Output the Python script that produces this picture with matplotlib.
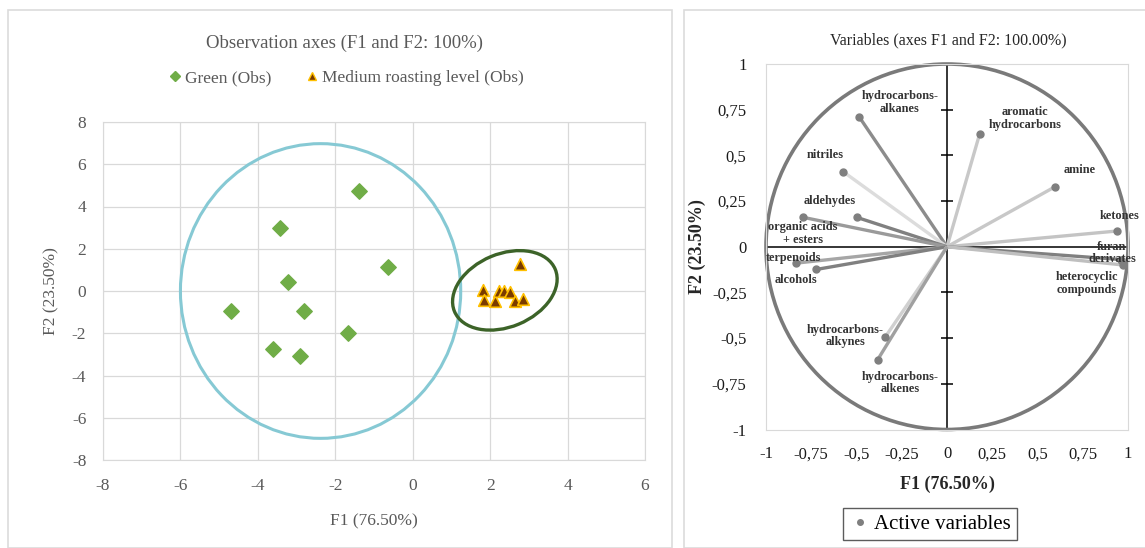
import matplotlib
matplotlib.use("Agg")
import matplotlib.pyplot as plt
from matplotlib.patches import Ellipse, Circle, Rectangle
from matplotlib.lines import Line2D

plt.rcParams['font.family'] = ['Liberation Serif', 'DejaVu Serif']
plt.rcParams['axes.unicode_minus'] = False

# observations (F1, F2)
green_f1 = [-1.40, -3.42, -0.65, -3.22, -4.70, -2.80, -1.68, -3.62, -2.92]
green_f2 = [4.75, 3.00, 1.12, 0.43, -0.93, -0.93, -1.99, -2.75, -3.08]
roast_f1 = [2.78, 1.81, 1.84, 2.12, 2.24, 2.37, 2.50, 2.65, 2.85]
roast_f2 = [1.30, 0.05, -0.43, -0.45, 0.01, 0.00, -0.04, -0.45, -0.38]

# variables (correlation circle)
var_names = ['hydrocarbons-\nalkanes', 'aromatic\nhydrocarbons', 'nitriles', 'amine',
             'aldehydes', 'organic acids\n+ esters', 'ketones', 'furan\nderivates',
             'heterocyclic\ncompounds', 'terpenoids', 'alcohols',
             'hydrocarbons-\nalkynes', 'hydrocarbons-\nalkenes']
var_f1 = [-0.486, 0.180, -0.574, 0.598, -0.499, -0.795, 0.938, 0.962, 0.975,
          -0.837, -0.721, -0.340, -0.383]
var_f2 = [0.712, 0.616, 0.411, 0.329, 0.161, 0.161, 0.086, -0.070, -0.100,
          -0.090, -0.124, -0.492, -0.618]
line_grey = ['#8c8c8c', '#c8c8c8', '#dcdcdc', '#c8c8c8', '#808080', '#9a9a9a', '#c4c4c4',
             '#808080', '#bfbfbf', '#a6a6a6', '#808080', '#d0d0d0', '#a0a0a0']
label_xy = [(-0.261, 0.789), (0.429, 0.702), (-0.675, 0.501), (0.732, 0.421),
            (-0.648, 0.249), (-0.795, 0.073), (0.953, 0.168), (0.911, -0.033),
            (0.773, -0.200), (-0.850, -0.063), (-0.832, -0.182),
            (-0.561, -0.488), (-0.256, -0.746)]

GREY = '#595959'
GRID = '#d9d9d9'

fig = plt.figure(figsize=(11.45, 5.48), dpi=100)

# panel frames
fig.patches.append(Rectangle((8 / 1145, 0), 664 / 1145, 1 - 10 / 548, transform=fig.transFigure,
                             fill=False, edgecolor='#dcdcdc', lw=1.2))
fig.patches.append(Rectangle((684 / 1145, 0), 470 / 1145, 1 - 10 / 548, transform=fig.transFigure,
                             fill=False, edgecolor='#dcdcdc', lw=1.2))

# ---------- left: observations ----------
ax1 = fig.add_axes([103 / 1145, 1 - 460 / 548, 542 / 1145, 338 / 548])
ax1.set_xlim(-8, 6)
ax1.set_ylim(-8, 8)
ax1.set_xticks(range(-8, 7, 2))
ax1.set_yticks(range(-8, 9, 2))
ax1.grid(True, color=GRID, lw=0.9)
ax1.set_axisbelow(True)
for s in ax1.spines.values():
    s.set_color(GRID)
ax1.tick_params(length=0, labelsize=12.5, labelcolor=GREY)
ax1.tick_params(axis='x', pad=13)
ax1.tick_params(axis='y', pad=12)

ax1.add_patch(Ellipse((-2.38, 0.0), 7.24, 13.95, fill=False, edgecolor='#86c9d4', lw=2.2, zorder=2))
ax1.add_patch(Ellipse((2.38, 0.03), 3.9, 2.5, angle=70, fill=False, edgecolor='#3c6328', lw=2.4, zorder=2))

ax1.scatter(green_f1, green_f2, marker='D', s=62, color='#70ad47', zorder=3, label='Green (Obs)')
ax1.scatter(roast_f1, roast_f2, marker='^', s=70, color='#7a3b00', edgecolor='#ffc000', lw=1.2,
            zorder=4, label='Medium roasting level (Obs)')

ax1.set_xlabel('F1 (76.50%)', fontsize=12.5, color=GREY, labelpad=14)
ax1.set_ylabel('F2 (23.50%)', fontsize=12.5, color=GREY, labelpad=9)
fig.text(345 / 1145, 1 - 43 / 548, 'Observation axes (F1 and F2: 100%)', ha='center', va='center',
         fontsize=13.5, color=GREY)
fig.legend(handles=[Line2D([], [], ls='', marker='D', ms=5, color='#70ad47'),
                    Line2D([], [], ls='', marker='^', ms=6, color='#7a3b00', mec='#ffc000')],
           labels=['Green (Obs)', 'Medium roasting level (Obs)'],
           loc='center', bbox_to_anchor=(345 / 1145, 1 - 78 / 548), ncol=2, frameon=False,
           prop={'family': 'Liberation Serif', 'size': 12.5}, labelcolor=GREY,
           handletextpad=0.1, columnspacing=1.8, handlelength=1)

# ---------- right: variables ----------
ax2 = fig.add_axes([766 / 1145, 1 - 429.5 / 548, 362 / 1145, 365.5 / 548])
ax2.set_xlim(-1, 1)
ax2.set_ylim(-1, 1)
ticks = [-1, -0.75, -0.5, -0.25, 0, 0.25, 0.5, 0.75, 1]
ax2.set_xticks(ticks)
ax2.set_yticks(ticks)
fmt = lambda v: ('%g' % v).replace('.', ',')
ax2.set_xticklabels([fmt(t) for t in ticks])
ax2.set_yticklabels([fmt(t) for t in ticks])
ax2.tick_params(length=0, labelsize=12, labelcolor='#1a1a1a')
ax2.tick_params(axis='x', pad=12)
ax2.tick_params(axis='y', pad=14)
for s in ax2.spines.values():
    s.set_color(GRID)

ax2.axhline(0, color='black', lw=1.1, zorder=1)
ax2.axvline(0, color='black', lw=1.1, zorder=1)
inner = [t for t in ticks if t not in (-1, 0, 1)]
ax2.plot([0] * len(inner), inner, ls='', marker='_', ms=9, mew=1.1, color='black', zorder=1)

ax2.add_patch(Circle((0, 0), 1, fill=False, edgecolor='#7a7a7a', lw=2.6, clip_on=False, zorder=2))

for x, y, c in zip(var_f1, var_f2, line_grey):
    ax2.plot([0, x], [0, y], color=c, lw=2.4, solid_capstyle='butt', zorder=3)
ax2.plot(var_f1, var_f2, ls='', marker='o', ms=5, color='#7f7f7f', zorder=4)
for name, (lx, ly) in zip(var_names, label_xy):
    ax2.text(lx, ly, name, ha='center', va='center', multialignment='center', fontsize=8.8,
             fontweight='bold', color='#333333', linespacing=1.05, zorder=5, clip_on=False)

ax2.set_xlabel('F1 (76.50%)', fontsize=13, fontweight='bold', color='#262626', labelpad=10)
ax2.set_ylabel('F2 (23.50%)', fontsize=13, fontweight='bold', color='#262626', labelpad=4)
fig.text(948 / 1145, 1 - 40 / 548, 'Variables (axes F1 and F2: 100.00%)', ha='center', va='center',
         fontsize=11.5, color='#262626')
leg = fig.legend(handles=[Line2D([], [], ls='', marker='o', ms=4, color='#7f7f7f')],
                 labels=['Active variables'], loc='center', bbox_to_anchor=(930 / 1145, 1 - 524 / 548),
                 prop={'family': 'Liberation Serif', 'size': 15}, frameon=True, fancybox=False,
                 edgecolor='#333333', handletextpad=0.2, handlelength=1, borderpad=0.3)
leg.get_frame().set_linewidth(1.0)

fig.savefig('out.png', dpi=100, facecolor='white')
